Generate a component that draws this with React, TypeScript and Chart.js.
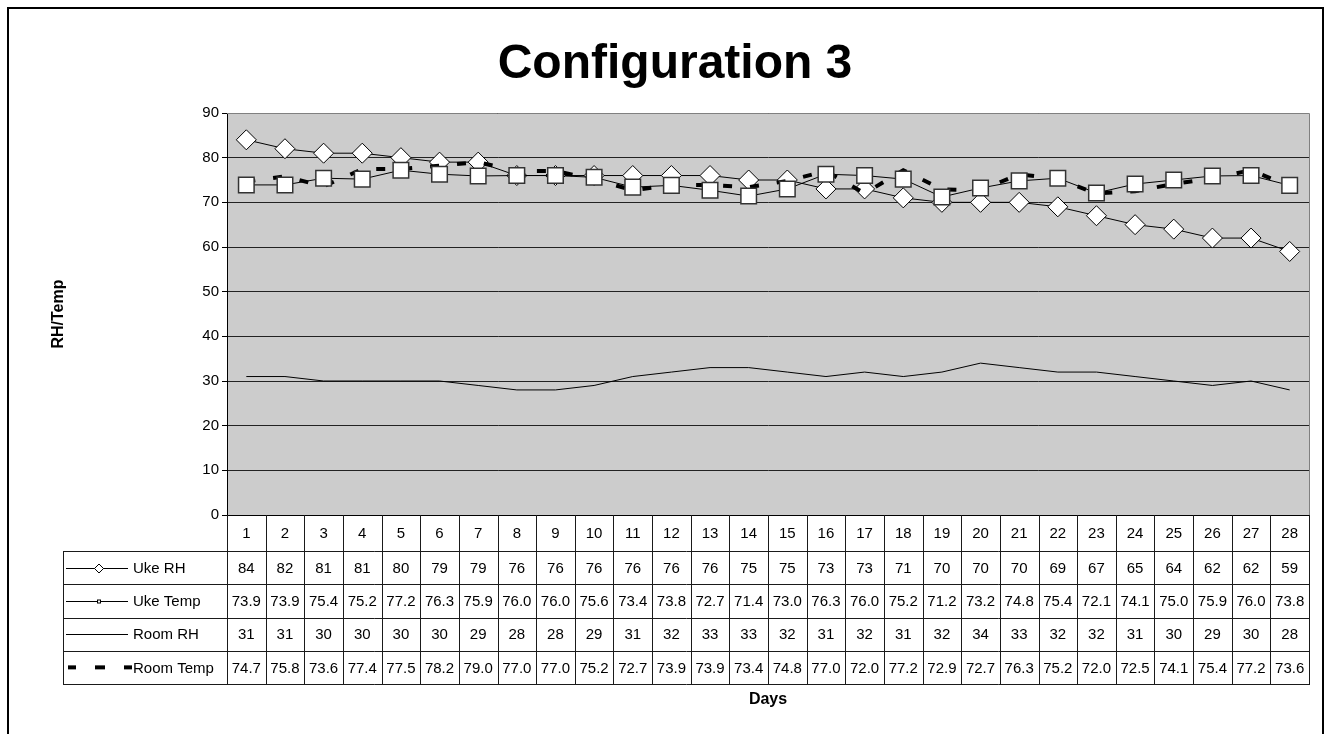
import { useEffect, useRef } from 'react';
import { Chart, registerables } from 'chart.js';

Chart.register(...registerables);

// ---------- data ----------
const days = ['1', '2', '3', '4', '5', '6', '7', '8', '9', '10', '11', '12', '13', '14', '15', '16', '17', '18', '19', '20', '21', '22', '23', '24', '25', '26', '27', '28'];
const ukeRH = [84, 82, 81, 81, 80, 79, 79, 76, 76, 76, 76, 76, 76, 75, 75, 73, 73, 71, 70, 70, 70, 69, 67, 65, 64, 62, 62, 59];
const ukeTemp = [73.9, 73.9, 75.4, 75.2, 77.2, 76.3, 75.9, 76.0, 76.0, 75.6, 73.4, 73.8, 72.7, 71.4, 73.0, 76.3, 76.0, 75.2, 71.2, 73.2, 74.8, 75.4, 72.1, 74.1, 75.0, 75.9, 76.0, 73.8];
const roomRH = [31, 31, 30, 30, 30, 30, 29, 28, 28, 29, 31, 32, 33, 33, 32, 31, 32, 31, 32, 34, 33, 32, 32, 31, 30, 29, 30, 28];
const roomTemp = [74.7, 75.8, 73.6, 77.4, 77.5, 78.2, 79.0, 77.0, 77.0, 75.2, 72.7, 73.9, 73.9, 73.4, 74.8, 77.0, 72.0, 77.2, 72.9, 72.7, 76.3, 75.2, 72.0, 72.5, 74.1, 75.4, 77.2, 73.6];
const seriesNames = ['Uke RH', 'Uke Temp', 'Room RH', 'Room Temp'];
const seriesDecimals = [0, 1, 0, 1];
const yMin = 0;
const yMax = 90;
const yStep = 10;
const titleText = 'Configuration 3';
const yTitleText = 'RH/Temp';
const xTitleText = 'Days';

// ---------- layout ----------
const W = 1317;
const H = 740;
const FONT = '"Liberation Sans", Arial, Helvetica, sans-serif';
const PLOT_LEFT = 220;
const PLOT_TOP = 106;
const PLOT_RIGHT_PAD = 15;
const CAT_ROW = 36;
const ROW_H = 33.25;
const LEGEND_LEFT = 56;
const PLOT_BOTTOM = 508;

const tablePlugin = {
  id: 'excelTable',
  beforeDraw(chart: any) {
    const ctx = chart.ctx as CanvasRenderingContext2D;
    const a = chart.chartArea;
    ctx.save();
    ctx.fillStyle = '#ffffff';
    ctx.fillRect(0, 0, W, H);
    ctx.fillStyle = '#CCCCCC';
    ctx.fillRect(a.left, a.top, a.right - a.left, a.bottom - a.top);
    ctx.restore();
  },
  afterDraw(chart: any) {
    const ctx = chart.ctx as CanvasRenderingContext2D;
    const a = chart.chartArea;
    const xs = chart.scales.x;
    const n = days.length;
    const colW = xs.getPixelForValue(1) - xs.getPixelForValue(0);
    ctx.save();

    // outer border
    ctx.strokeStyle = '#000';
    ctx.lineWidth = 2;
    ctx.strokeRect(1, 1, W - 2, H - 2);

    // plot border (top/right) gray
    ctx.lineWidth = 1;
    ctx.strokeStyle = '#808080';
    ctx.beginPath();
    ctx.moveTo(a.left, Math.round(a.top) + 0.5);
    ctx.lineTo(a.right + 0.5, Math.round(a.top) + 0.5);
    ctx.lineTo(a.right + 0.5, a.bottom);
    ctx.stroke();

    // title
    ctx.fillStyle = '#000';
    ctx.font = `bold 48px ${FONT}`;
    ctx.textAlign = 'center';
    ctx.textBaseline = 'alphabetic';
    ctx.fillText(titleText, 668, 71);

    // y title
    ctx.save();
    ctx.translate(52, (a.top + a.bottom) / 2);
    ctx.rotate(-Math.PI / 2);
    ctx.font = `bold 16px ${FONT}`;
    ctx.textBaseline = 'middle';
    ctx.fillText(yTitleText, 0, 0);
    ctx.restore();

    // x title
    ctx.font = `bold 16px ${FONT}`;
    ctx.textBaseline = 'middle';
    ctx.fillText(xTitleText, (a.left + a.right) / 2, 693);

    // table grid
    const rowsTop = a.bottom + CAT_ROW;
    const tableBottom = rowsTop + ROW_H * seriesNames.length;
    ctx.strokeStyle = '#1a1a1a';
    ctx.lineWidth = 1;
    ctx.beginPath();
    for (let i = 0; i <= n; i++) {
      const bx = i === n ? a.right : xs.getPixelForValue(i) - colW / 2;
      const px = Math.round(bx) + 0.5;
      ctx.moveTo(px, a.bottom);
      ctx.lineTo(px, tableBottom);
    }
    for (let r = 0; r <= seriesNames.length; r++) {
      const py = Math.round(rowsTop + r * ROW_H) + 0.5;
      ctx.moveTo(LEGEND_LEFT, py);
      ctx.lineTo(a.right + 1, py);
    }
    ctx.moveTo(LEGEND_LEFT + 0.5, Math.round(rowsTop));
    ctx.lineTo(LEGEND_LEFT + 0.5, Math.round(tableBottom) + 1);
    ctx.stroke();

    // values
    const allSeries = [ukeRH, ukeTemp, roomRH, roomTemp];
    ctx.font = `15px ${FONT}`;
    ctx.textAlign = 'center';
    ctx.textBaseline = 'middle';
    ctx.fillStyle = '#000';
    allSeries.forEach((vals, r) => {
      const cy = rowsTop + r * ROW_H + ROW_H / 2 + 1;
      vals.forEach((v, i) => {
        ctx.fillText(v.toFixed(seriesDecimals[r]), xs.getPixelForValue(i), cy);
      });
    });

    // legend keys + names
    ctx.textAlign = 'left';
    seriesNames.forEach((name, r) => {
      const cy = rowsTop + r * ROW_H + ROW_H / 2;
      const ly = Math.round(cy) + 0.5;
      ctx.strokeStyle = '#000';
      ctx.fillStyle = '#000';
      ctx.lineWidth = 1;
      if (r < 3) {
        ctx.beginPath();
        ctx.moveTo(59, ly);
        ctx.lineTo(121, ly);
        ctx.stroke();
      }
      if (r === 0) {
        ctx.fillStyle = '#fff';
        ctx.beginPath();
        ctx.moveTo(92, ly - 4.5);
        ctx.lineTo(96.5, ly);
        ctx.lineTo(92, ly + 4.5);
        ctx.lineTo(87.5, ly);
        ctx.closePath();
        ctx.fill();
        ctx.stroke();
      } else if (r === 1) {
        ctx.fillStyle = '#fff';
        ctx.fillRect(90, ly - 2, 4, 4);
        ctx.strokeRect(90.5, ly - 1.5, 3, 3);
      } else if (r === 3) {
        ctx.fillStyle = '#000';
        ctx.fillRect(61, cy - 2, 8, 4);
        ctx.fillRect(88, cy - 2, 10, 4);
        ctx.fillRect(117, cy - 2, 8, 4);
      }
      ctx.fillStyle = '#000';
      ctx.fillText(name, 126, cy + 1);
    });

    ctx.restore();
  },
};

export default function App() {
  const ref = useRef<HTMLCanvasElement>(null);

  useEffect(() => {
    if (!ref.current) return;
    Chart.defaults.font.family = FONT;
    const chart = new Chart(ref.current, {
      type: 'line',
      data: {
        labels: days,
        datasets: [
          {
            label: seriesNames[0],
            data: ukeRH,
            borderColor: '#000',
            borderWidth: 1,
            pointStyle: 'rectRot',
            pointRadius: 10,
            pointBackgroundColor: '#fff',
            pointBorderColor: '#000',
            pointBorderWidth: 1,
            tension: 0,
            order: 2,
          },
          {
            label: seriesNames[1],
            data: ukeTemp,
            borderColor: '#000',
            borderWidth: 1,
            pointStyle: 'rect',
            pointRadius: 11,
            pointBackgroundColor: '#fff',
            pointBorderColor: '#333',
            pointBorderWidth: 1.5,
            tension: 0,
            order: 0,
          },
          {
            label: seriesNames[2],
            data: roomRH,
            borderColor: '#000',
            borderWidth: 1,
            pointRadius: 0,
            tension: 0,
            order: 3,
          },
          {
            label: seriesNames[3],
            data: roomTemp,
            borderColor: '#000',
            borderWidth: 4,
            borderDash: [9, 18],
            pointRadius: 0,
            tension: 0,
            order: 1,
          },
        ],
      },
      options: {
        animation: false,
        responsive: false,
        devicePixelRatio: 1,
        events: [],
        layout: {
          padding: { left: 0, top: PLOT_TOP, right: PLOT_RIGHT_PAD, bottom: H - PLOT_BOTTOM - CAT_ROW },
        },
        plugins: {
          legend: { display: false },
          tooltip: { enabled: false },
          title: { display: false },
        },
        scales: {
          x: {
            type: 'category',
            offset: true,
            grid: { display: false, drawTicks: false },
            border: { display: true, color: '#000', width: 1 },
            ticks: {
              color: '#000',
              font: { size: 15, family: FONT },
              padding: 10,
              maxRotation: 0,
              autoSkip: false,
            },
            afterFit(s: any) {
              s.height = CAT_ROW;
            },
          },
          y: {
            min: yMin,
            max: yMax,
            ticks: {
              stepSize: yStep,
              color: '#000',
              font: { size: 15, family: FONT },
              padding: 3,
            },
            grid: { color: '#222', tickLength: 5, tickColor: '#000', drawTicks: true },
            border: { display: true, color: '#000', width: 1 },
            afterFit(s: any) {
              s.width = PLOT_LEFT;
            },
          },
        },
      },
      plugins: [tablePlugin],
    });
    return () => chart.destroy();
  }, []);

  return (
    <div style={{ position: 'fixed', left: 7, top: 7, width: W, height: H }}>
      <canvas ref={ref} width={W} height={H} style={{ width: W, height: H, display: 'block' }} />
    </div>
  );
}
